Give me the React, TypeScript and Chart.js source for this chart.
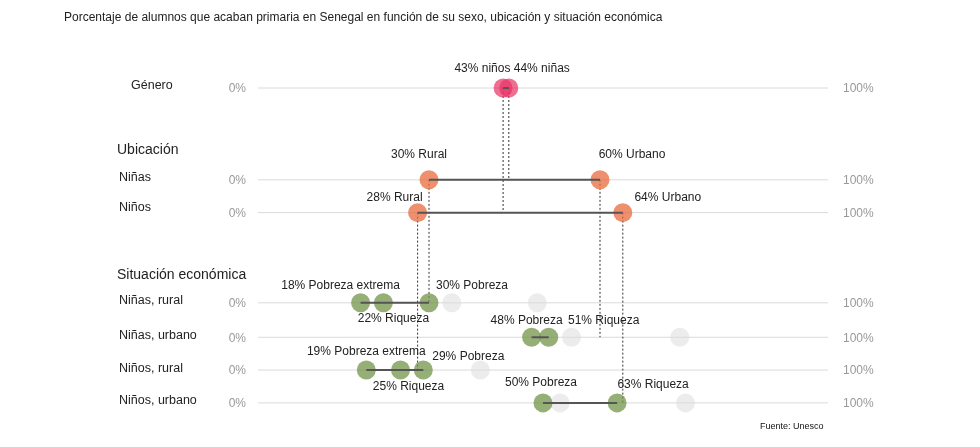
import { useEffect, useRef } from "react";
import { Chart, registerables } from "chart.js";

Chart.register(...registerables);

// ---- data ----
const titleText =
  "Porcentaje de alumnos que acaban primaria en Senegal en función de su sexo, ubicación y situación económica";
const sourceText = "Fuente: Unesco";
const rowLabels = ["Género", "Niñas", "Niños", "Niñas, rural", "Niñas, urbano", "Niños, rural", "Niños, urbano"];
const rowPos = [0, 2.8, 3.8, 6.55, 7.6, 8.6, 9.6];
const sectionHeaders = ["Ubicación", "Situación económica"];
const axisTickLabels = ["0%", "100%"];

const genderValues = [43, 44]; // niños, niñas
const ruralValues = [30, 28]; // niñas, niños
const urbanValues = [60, 64]; // niñas, niños
// economic rows: niñas rural, niñas urbano, niños rural, niños urbano
const extremePovertyValues: (number | null)[] = [18, null, 19, null];
const povertyValues = [30, 48, 29, 50];
const wealthValues = [22, 51, 25, 63];
const otherQuintileValues = [[34, 49], [55, 74], [39], [53, 75]];

const FONT = "'Liberation Sans', Arial, sans-serif";
const R = 9.5;

export default function App() {
  const ref = useRef<HTMLCanvasElement | null>(null);

  useEffect(() => {
    if (!ref.current) return;
    const econRows = [3, 4, 5, 6];

    const datasets: any[] = [];

    // row baselines
    rowPos.forEach((y) => {
      datasets.push({
        type: "line",
        data: [{ x: 0, y }, { x: 100, y }],
        borderColor: "#dadada",
        borderWidth: 1,
        pointRadius: 0,
        order: 10,
        clip: false,
      });
    });

    // dotted connectors
    const connectors = [
      { v: genderValues[0], from: 0, to: 2 },
      { v: genderValues[1], from: 0, to: 1 },
      { v: ruralValues[0], from: 1, to: 3 },
      { v: ruralValues[1], from: 2, to: 5 },
      { v: urbanValues[0], from: 1, to: 4 },
      { v: urbanValues[1], from: 2, to: 6 },
    ];
    connectors.forEach((c) => {
      datasets.push({
        type: "line",
        data: [{ x: c.v, y: rowPos[c.from] }, { x: c.v, y: rowPos[c.to] }],
        borderColor: "#333",
        borderWidth: 1,
        borderDash: [2, 2],
        pointRadius: 0,
        order: 9,
        clip: false,
      });
    });

    // faint other quintiles
    const faint: any[] = [];
    otherQuintileValues.forEach((vals, i) => vals.forEach((v) => faint.push({ x: v, y: rowPos[econRows[i]] })));
    datasets.push({
      type: "scatter",
      data: faint,
      backgroundColor: "rgba(220,220,220,0.55)",
      borderWidth: 0,
      pointRadius: R,
      order: 8,
      clip: false,
    });

    // green economic dots
    const green: any[] = [];
    econRows.forEach((r, i) => {
      [extremePovertyValues[i], povertyValues[i], wealthValues[i]].forEach((v) => {
        if (v !== null && v !== undefined) green.push({ x: v, y: rowPos[r] });
      });
    });
    datasets.push({
      type: "scatter",
      data: green,
      backgroundColor: "rgba(115,148,72,0.75)",
      borderWidth: 0,
      pointRadius: R,
      order: 5,
      clip: false,
    });

    // orange location dots
    const orange: any[] = [];
    [1, 2].forEach((r, i) => {
      orange.push({ x: ruralValues[i], y: rowPos[r] });
      orange.push({ x: urbanValues[i], y: rowPos[r] });
    });
    datasets.push({
      type: "scatter",
      data: orange,
      backgroundColor: "rgba(232,105,62,0.75)",
      borderWidth: 0,
      pointRadius: R,
      order: 5,
      clip: false,
    });

    // pink gender dots
    datasets.push({
      type: "scatter",
      data: genderValues.map((v) => ({ x: v, y: rowPos[0] })),
      backgroundColor: "rgba(232,50,100,0.7)",
      borderWidth: 0,
      pointRadius: R,
      order: 5,
      clip: false,
    });

    // dumbbell lines
    const spans: { row: number; vals: (number | null)[] }[] = [
      { row: 0, vals: genderValues },
      { row: 1, vals: [ruralValues[0], urbanValues[0]] },
      { row: 2, vals: [ruralValues[1], urbanValues[1]] },
    ];
    econRows.forEach((r, i) =>
      spans.push({ row: r, vals: [extremePovertyValues[i], povertyValues[i], wealthValues[i]] })
    );
    spans.forEach((s) => {
      const vs = s.vals.filter((v) => v !== null) as number[];
      datasets.push({
        type: "line",
        data: [{ x: Math.min(...vs), y: rowPos[s.row] }, { x: Math.max(...vs), y: rowPos[s.row] }],
        borderColor: "#555",
        borderWidth: 2,
        pointRadius: 0,
        order: 1,
        clip: false,
      });
    });

    const pointLabels = [
      { row: 0, value: genderValues[0], text: `${genderValues[0]}% niños ${genderValues[1]}% niñas`, dx: 9, dy: -19 },
      { row: 1, value: ruralValues[0], text: `${ruralValues[0]}% Rural`, dx: -10, dy: -25 },
      { row: 1, value: urbanValues[0], text: `${urbanValues[0]}% Urbano`, dx: 32, dy: -25 },
      { row: 2, value: ruralValues[1], text: `${ruralValues[1]}% Rural`, dx: -23, dy: -15 },
      { row: 2, value: urbanValues[1], text: `${urbanValues[1]}% Urbano`, dx: 45, dy: -15 },
      { row: 3, value: extremePovertyValues[0], text: `${extremePovertyValues[0]}% Pobreza extrema`, dx: -20, dy: -17 },
      { row: 3, value: povertyValues[0], text: `${povertyValues[0]}% Pobreza`, dx: 43, dy: -17 },
      { row: 3, value: wealthValues[0], text: `${wealthValues[0]}% Riqueza`, dx: 10, dy: 16 },
      { row: 4, value: povertyValues[1], text: `${povertyValues[1]}% Pobreza`, dx: -5, dy: -17 },
      { row: 4, value: wealthValues[1], text: `${wealthValues[1]}% Riqueza`, dx: 55, dy: -17 },
      { row: 5, value: extremePovertyValues[2], text: `${extremePovertyValues[2]}% Pobreza extrema`, dx: 0, dy: -18 },
      { row: 5, value: povertyValues[2], text: `${povertyValues[2]}% Pobreza`, dx: 45, dy: -13 },
      { row: 5, value: wealthValues[2], text: `${wealthValues[2]}% Riqueza`, dx: 8, dy: 17 },
      { row: 6, value: povertyValues[3], text: `${povertyValues[3]}% Pobreza`, dx: -2, dy: -20 },
      { row: 6, value: wealthValues[3], text: `${wealthValues[3]}% Riqueza`, dx: 36, dy: -18 },
    ];

    const textPlugin = {
      id: "texts",
      afterDatasetsDraw(chart: any) {
        const { ctx, scales } = chart;
        const xs = scales.x;
        const ys = scales.y;
        ctx.save();
        ctx.textBaseline = "middle";

        // title
        ctx.fillStyle = "#222";
        ctx.font = `12px ${FONT}`;
        ctx.textAlign = "left";
        ctx.fillText(titleText, 64, 18);

        // row labels
        rowLabels.forEach((lab, i) => {
          const y = ys.getPixelForValue(rowPos[i]);
          ctx.fillStyle = "#222";
          ctx.font = `12.5px ${FONT}`;
          ctx.textAlign = "left";
          const lx = i === 0 ? 131 : 119;
          ctx.fillText(lab, lx, y - (i === 2 ? 5 : 2));
          ctx.fillStyle = "#999";
          ctx.font = `12px ${FONT}`;
          ctx.textAlign = "right";
          ctx.fillText(axisTickLabels[0], 246, y + 1);
          ctx.textAlign = "left";
          ctx.fillText(axisTickLabels[1], 843, y + 1);
        });

        // section headers
        ctx.fillStyle = "#222";
        ctx.font = `14px ${FONT}`;
        ctx.textAlign = "left";
        ctx.fillText(sectionHeaders[0], 117, ys.getPixelForValue(rowPos[1]) - 30);
        ctx.fillText(sectionHeaders[1], 117, ys.getPixelForValue(rowPos[3]) - 28);

        // point labels
        ctx.font = `12px ${FONT}`;
        ctx.textAlign = "center";
        ctx.fillStyle = "#222";
        pointLabels.forEach((p) => {
          const x = xs.getPixelForValue(p.value as number) + p.dx;
          const y = ys.getPixelForValue(rowPos[p.row]) + p.dy;
          ctx.fillText(p.text, x, y);
        });

        // source
        ctx.font = `9px ${FONT}`;
        ctx.textAlign = "left";
        ctx.fillStyle = "#111";
        ctx.fillText(sourceText, 760, 427);
        ctx.restore();
      },
    };

    const chart = new Chart(ref.current, {
      type: "scatter",
      data: { datasets },
      options: {
        animation: false,
        responsive: false,
        maintainAspectRatio: false,
        layout: { padding: { left: 258, right: 152, top: 55.2, bottom: 31 } },
        scales: {
          x: { type: "linear", min: 0, max: 100, display: false },
          y: { type: "linear", min: -1, max: 10, reverse: true, display: false },
        },
        plugins: { legend: { display: false }, tooltip: { enabled: false } },
        events: [],
      },
      plugins: [textPlugin],
    } as any);
    return () => chart.destroy();
  }, []);

  return (
    <div style={{ position: "absolute", left: 0, top: 0, width: 980, height: 447, background: "#fff" }}>
      <canvas ref={ref} width={980} height={447} style={{ width: 980, height: 447, display: "block" }} />
    </div>
  );
}
